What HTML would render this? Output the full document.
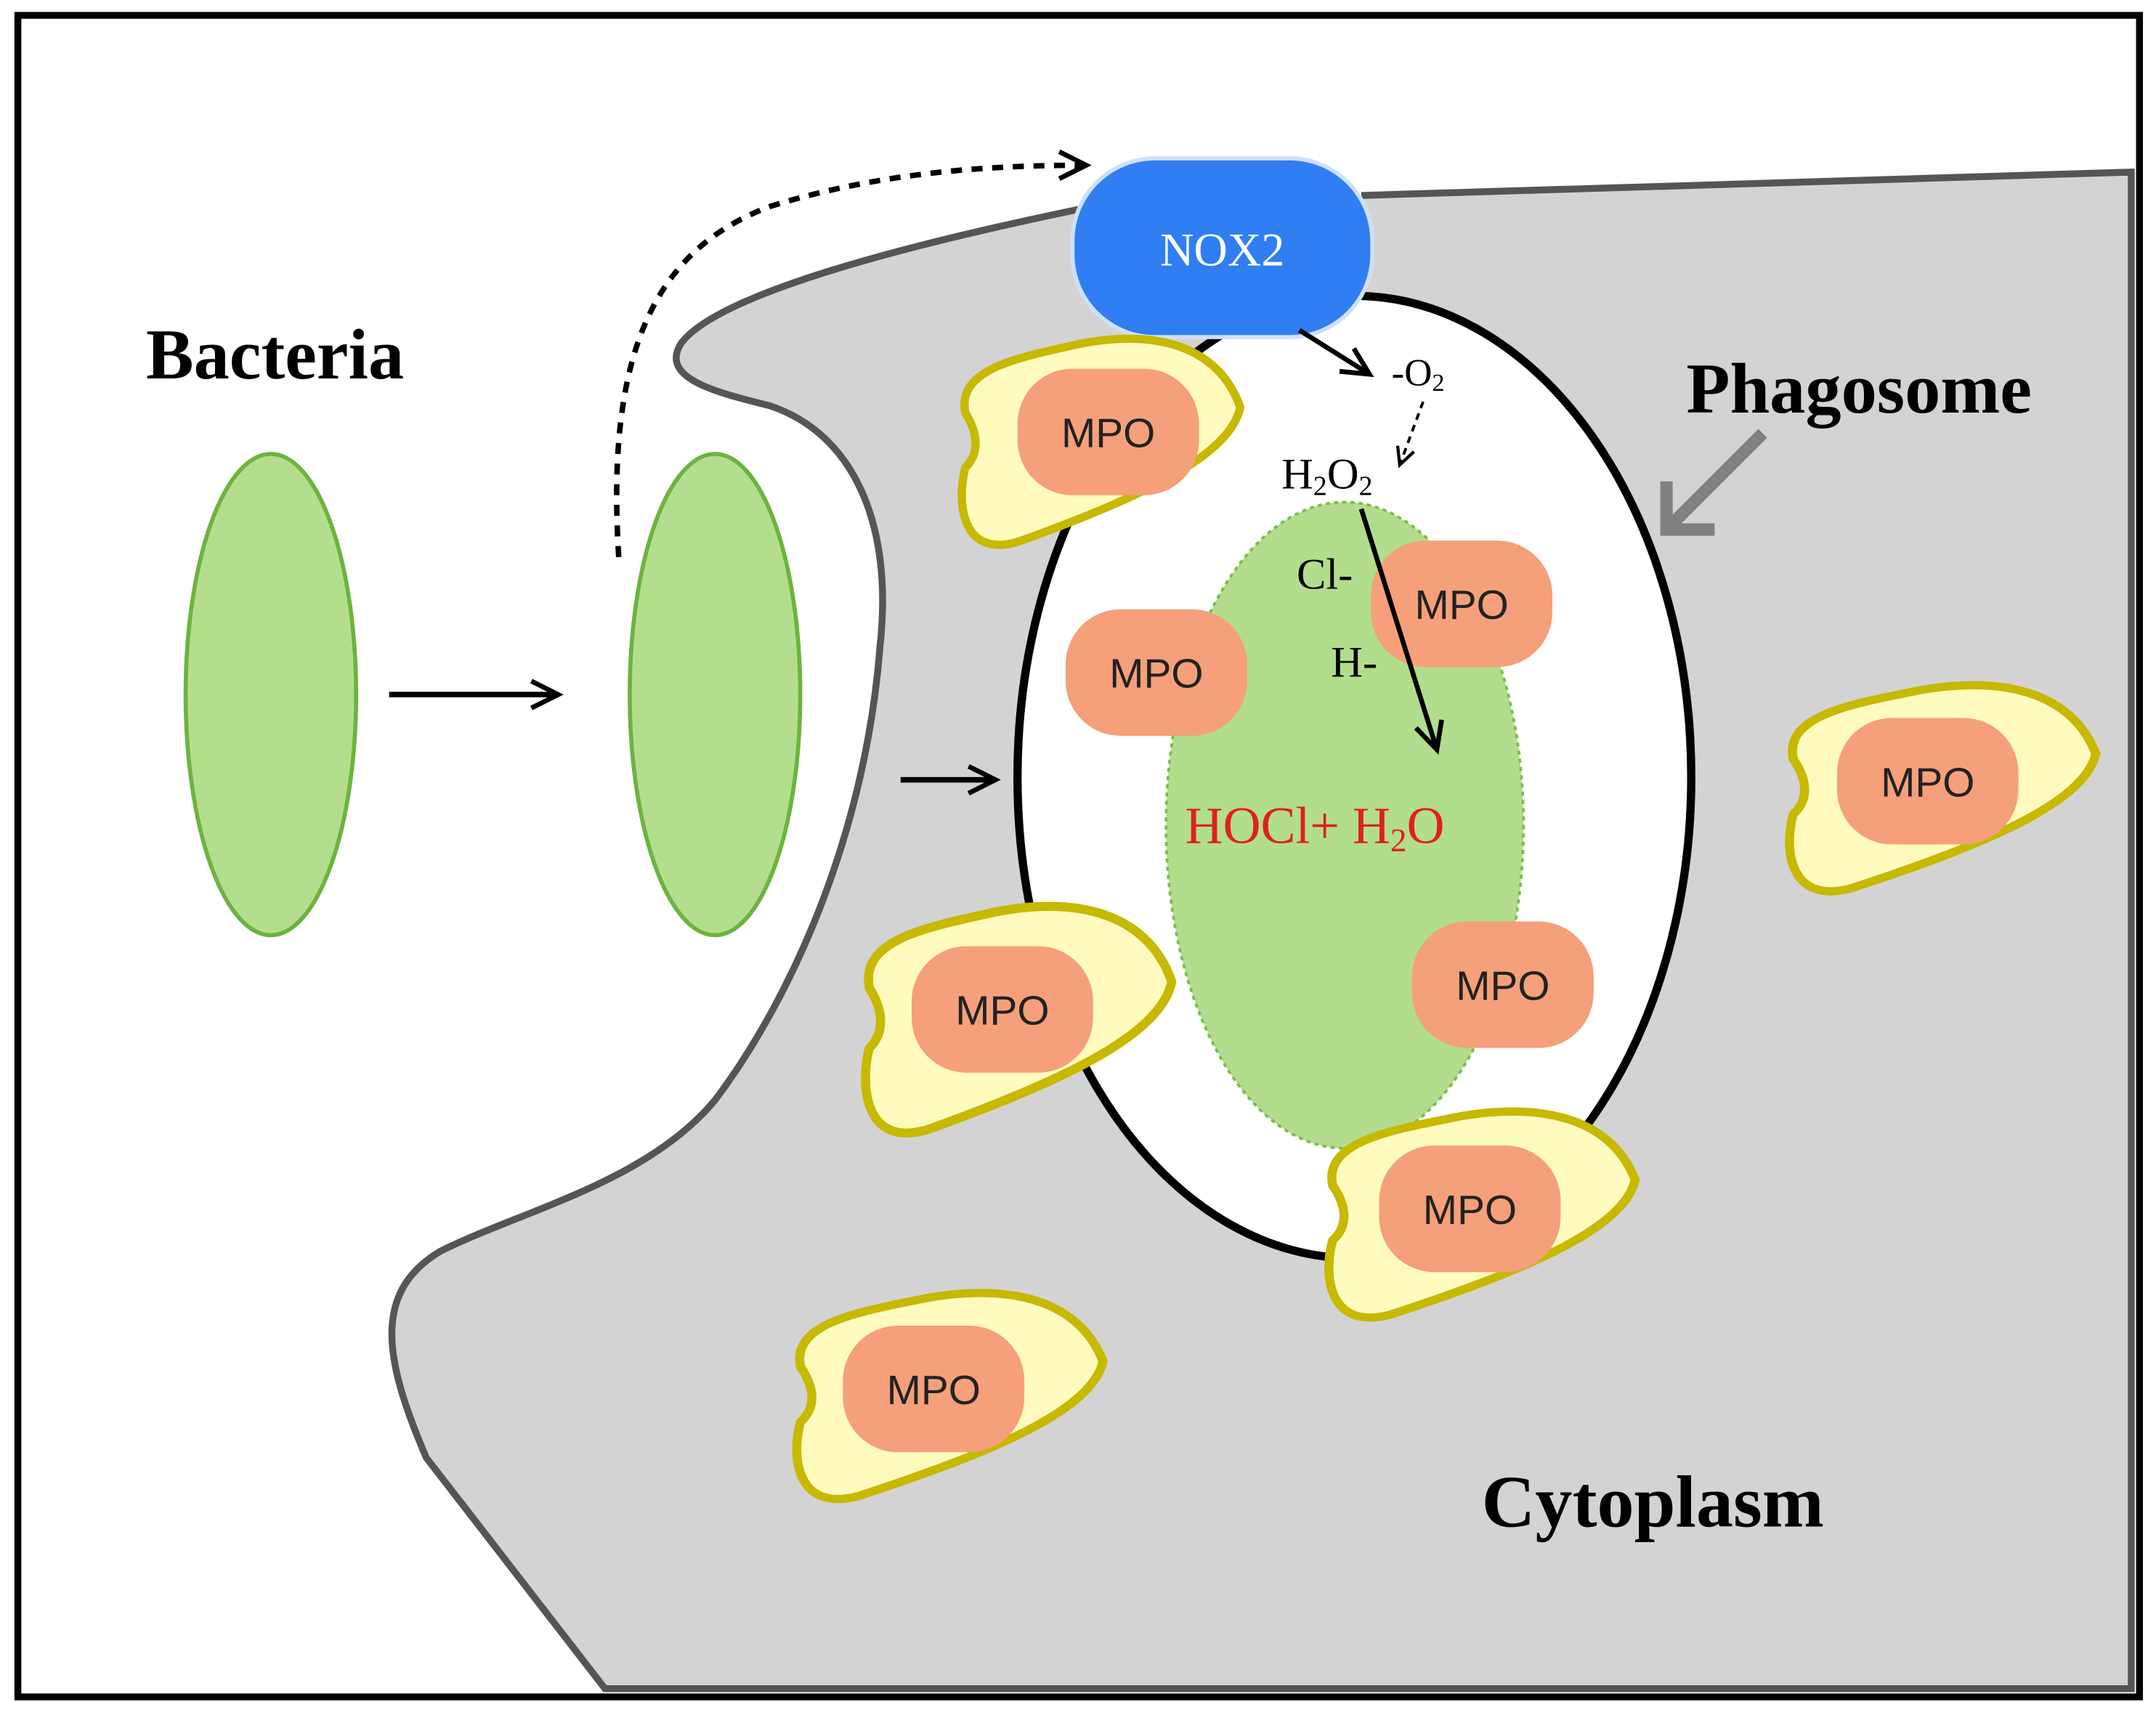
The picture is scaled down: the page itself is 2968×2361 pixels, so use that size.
<!DOCTYPE html>
<html><head><style>
html,body{margin:0;padding:0;background:#fff;}
svg{display:block;}
</style></head><body>
<svg width="2968" height="2361" viewBox="0 0 1568 1247" xmlns="http://www.w3.org/2000/svg">
<defs>
<path id="blob" d="M -98,-18 C -104,-50 -60,-58 -15,-68 C 35,-78 85,-70 102,-22 C 95,12 35,42 -60,76 C -102,88 -104,45 -98,22 C -88,12 -88,-2 -98,-18 Z" fill="#fffbbf" stroke="#c7b800" stroke-width="6"/>
<marker id="ah" viewBox="0 0 20 20" refX="17" refY="10" markerWidth="28" markerHeight="28" orient="auto" markerUnits="userSpaceOnUse">
<path d="M3,3 L17,10 L3,17" fill="none" stroke="#000" stroke-width="2.5"/></marker>
<marker id="ahs" viewBox="0 0 20 20" refX="17" refY="10" markerWidth="18" markerHeight="18" orient="auto" markerUnits="userSpaceOnUse">
<path d="M3,3 L17,10 L3,17" fill="none" stroke="#000" stroke-width="2.5"/></marker>
</defs>
<rect x="0" y="0" width="1568" height="1247" fill="#fff"/>
<rect x="13" y="11" width="1543" height="1223" fill="#fff" stroke="#000" stroke-width="5"/>
<path d="M 785,152 C 650,180 520,215 495,250 C 480,275 520,285 560,295 C 620,315 650,380 640,470 C 630,600 580,720 520,800 C 470,860 380,880 320,910 C 270,940 280,990 310,1060 L 440,1228 L 1550,1228 L 1550,125 L 990,142" fill="#d3d3d3" stroke="#555" stroke-width="5"/>
<ellipse cx="985" cy="565" rx="245" ry="350" fill="#fff" stroke="#000" stroke-width="6"/>
<ellipse cx="978" cy="600" rx="130" ry="235" fill="#b2dd8c" stroke="#7cbc4e" stroke-width="2" stroke-dasharray="3,3"/>
<ellipse cx="197" cy="505" rx="62" ry="175" fill="#b3de8e" stroke="#6db33f" stroke-width="3"/>
<ellipse cx="520" cy="505" rx="62" ry="175" fill="#b3de8e" stroke="#6db33f" stroke-width="3"/>
<rect x="780" y="115" width="218" height="130" rx="60" fill="#2f7ef2" stroke="#cfe0ff" stroke-width="3"/>
<text x="889" y="193" font-family="Liberation Serif, serif" font-size="34" fill="#fff" text-anchor="middle">NOX2</text>
<use href="#blob" transform="translate(800,318)"/>
<use href="#blob" transform="translate(740,738) scale(1.1)"/>
<use href="#blob" transform="translate(1077,880) scale(1.1,1.0)"/>
<use href="#blob" transform="translate(1412,570) scale(1.1,1.0)"/>
<use href="#blob" transform="translate(690,1012) scale(1.1,1.0)"/>
<g fill="#f5a07a">
<rect x="740" y="268" width="132" height="92" rx="40"/>
<rect x="663" y="688" width="132" height="92" rx="40"/>
<rect x="1003" y="833" width="132" height="92" rx="40"/>
<rect x="1336" y="522" width="132" height="92" rx="40"/>
<rect x="613" y="964" width="132" height="92" rx="40"/>
<rect x="775" y="443" width="132" height="92" rx="40"/>
<rect x="997" y="393" width="132" height="92" rx="40"/>
<rect x="1027" y="670" width="132" height="92" rx="40"/>
</g>
<g font-family="Liberation Sans, sans-serif" font-size="30" fill="#222" text-anchor="middle">
<text x="806" y="325">MPO</text><text x="729" y="745">MPO</text><text x="1069" y="890">MPO</text>
<text x="1402" y="579">MPO</text><text x="679" y="1021">MPO</text><text x="841" y="500">MPO</text>
<text x="1063" y="450">MPO</text><text x="1093" y="727">MPO</text>
</g>
<g stroke="#000" stroke-width="4" fill="none">
<line x1="283" y1="505" x2="406" y2="505" marker-end="url(#ah)"/>
<line x1="655" y1="567" x2="724" y2="567" marker-end="url(#ah)"/>
<path d="M 450,405 C 440,250 480,180 560,150 C 640,125 720,120 790,120" stroke-dasharray="8,7" marker-end="url(#ah)"/>
<line x1="945" y1="240" x2="996" y2="272" stroke-width="3.5" marker-end="url(#ah)"/>
<line x1="1035" y1="292" x2="1018" y2="338" stroke-width="2" stroke-dasharray="5,4" marker-end="url(#ahs)"/>
<line x1="990" y1="370" x2="1045" y2="545" stroke-width="3.5" marker-end="url(#ah)"/>
</g>
<g stroke="#808080" stroke-width="9" fill="none">
<line x1="1282" y1="315" x2="1215" y2="382"/>
<path d="M 1212,350 L 1212,385 L 1247,385"/>
</g>
<g font-family="Liberation Serif, serif" font-weight="bold" fill="#000">
<text x="200" y="275" font-size="52" text-anchor="middle">Bacteria</text>
<text x="1352" y="300" font-size="52" text-anchor="middle">Phagosome</text>
<text x="1202" y="1110" font-size="54" text-anchor="middle">Cytoplasm</text>
</g>
<g font-family="Liberation Serif, serif" fill="#000">
<text x="1012" y="280" font-size="28">-O<tspan font-size="18" dy="4">2</tspan></text>
<text x="932" y="355" font-size="32">H<tspan font-size="20" dy="5">2</tspan><tspan dy="-5">O</tspan><tspan font-size="20" dy="5">2</tspan></text>
<text x="943" y="428" font-size="32">Cl-</text>
<text x="968" y="492" font-size="32">H-</text>
<text x="862" y="613" font-size="38" fill="#e0201c">HOCl+ H<tspan font-size="24" dy="6">2</tspan><tspan dy="-6">O</tspan></text>
</g>
</svg>
</body></html>
